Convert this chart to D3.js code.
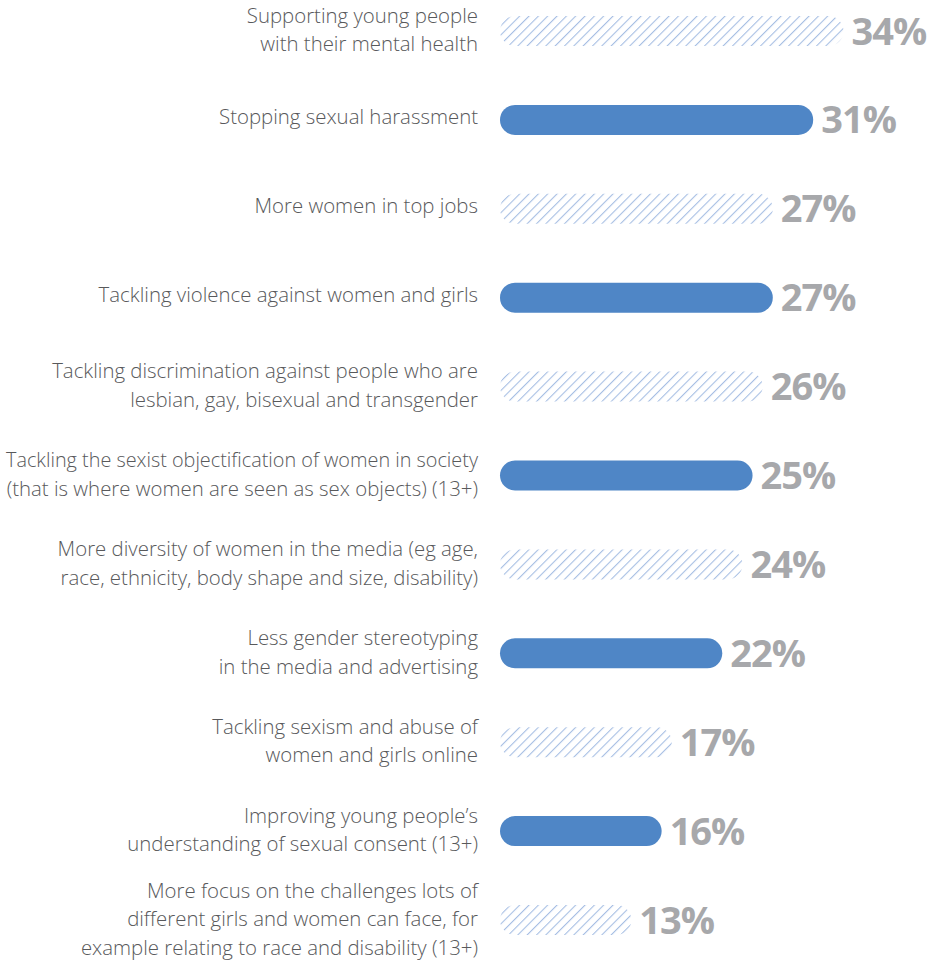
<!DOCTYPE html>
<html>
<head>
<meta charset="utf-8">
<script src="https://cdn.jsdelivr.net/npm/d3@7"></script>
<style>
  html, body { margin: 0; padding: 0; background: #fff; }
  svg { display: block; }
</style>
</head>
<body>
<svg id="chart" width="927" height="964"></svg>
<script>
// Priorities, ordered top to bottom
const categories = [
  ["Supporting young people", "with their mental health"],
  ["Stopping sexual harassment"],
  ["More women in top jobs"],
  ["Tackling violence against women and girls"],
  ["Tackling discrimination against people who are", "lesbian, gay, bisexual and transgender"],
  ["Tackling the sexist objectification of women in society", "(that is where women are seen as sex objects) (13+)"],
  ["More diversity of women in the media (eg age,", "race, ethnicity, body shape and size, disability)"],
  ["Less gender stereotyping", "in the media and advertising"],
  ["Tackling sexism and abuse of", "women and girls online"],
  ["Improving young people\u2019s", "understanding of sexual consent (13+)"],
  ["More focus on the challenges lots of", "different girls and women can face, for", "example relating to race and disability (13+)"]
];
const values = [34, 31, 27, 27, 26, 25, 24, 22, 17, 16, 13];
const hatched = [true, false, true, false, true, false, true, false, true, false, true];

const svg = d3.select("#chart");
const idx = d3.range(values.length);

const x = d3.scaleLinear().domain([0, 34]).range([500, 843.5]);
const y = d3.scalePoint().domain(idx).range([31, 920]);
const barH = 30;
const labelRight = 478;
const labelMaxW = 472;

// Diagonal stripe fill
const defs = svg.append("defs");
const pat = defs.append("pattern")
  .attr("id", "stripes")
  .attr("patternUnits", "userSpaceOnUse")
  .attr("width", 6.6).attr("height", 6.6)
  .attr("patternTransform", "rotate(45)");
pat.append("line")
  .attr("x1", 0).attr("y1", 0).attr("x2", 0).attr("y2", 6.6)
  .attr("stroke", "#A6BEE3").attr("stroke-width", 2.2);

const rows = svg.selectAll("g.row").data(idx).join("g")
  .attr("class", "row")
  .attr("transform", i => `translate(0,${y(i)})`);

rows.append("rect")
  .attr("x", x(0))
  .attr("y", -barH / 2)
  .attr("width", i => x(values[i]) - x(0))
  .attr("height", barH)
  .attr("rx", barH / 2).attr("ry", barH / 2)
  .attr("fill", i => hatched[i] ? "url(#stripes)" : "#4F86C6");

rows.append("text")
  .attr("x", i => x(values[i]) + 8)
  .attr("y", 13.5)
  .attr("font-family", "'Open Sans', sans-serif")
  .attr("font-weight", 700)
  .attr("font-size", 38)
  .attr("letter-spacing", -1)
  .attr("fill", "#A7A8AB")
  .text(i => values[i] + "%");

const lineGap = 28.5;
rows.append("text")
  .attr("text-anchor", "end")
  .attr("font-family", "'Open Sans', sans-serif")
  .attr("font-weight", 300)
  .attr("font-size", 20.4)
  .attr("fill", "#58595B")
  .each(function(i) {
    const lines = categories[i];
    const n = lines.length;
    d3.select(this).selectAll("tspan").data(lines).join("tspan")
      .attr("x", labelRight)
      .attr("y", (d, k) => (k - (n - 1) / 2) * lineGap + (n === 1 ? 4 : 6))
      .text(d => d);
  });

// Keep the longest lines inside the left edge
rows.selectAll("tspan").each(function() {
  const w = this.getComputedTextLength();
  if (w > labelMaxW) {
    d3.select(this).attr("textLength", labelMaxW).attr("lengthAdjust", "spacingAndGlyphs");
  }
});
</script>
</body>
</html>
